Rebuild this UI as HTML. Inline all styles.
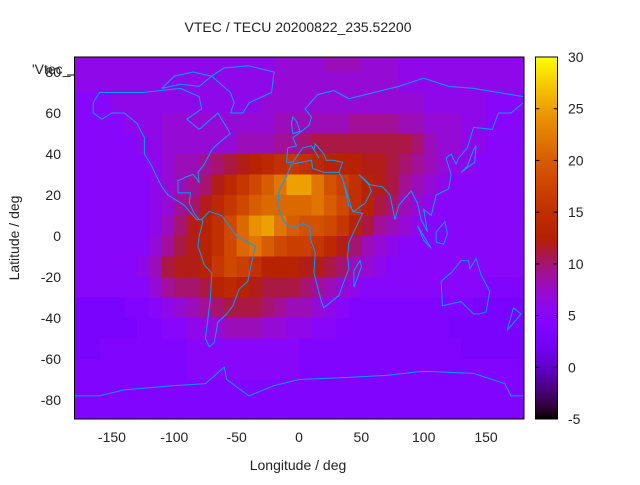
<!DOCTYPE html>
<html><head><meta charset="utf-8"><style>
body{margin:0;background:#fff;}
svg text{font-family:"Liberation Sans",sans-serif;font-size:14px;fill:#222;}
</style></head><body>
<svg id="chart" width="640" height="480" xmlns="http://www.w3.org/2000/svg">
<defs>
<clipPath id="plotclip"><rect x="74.5" y="57" width="449.5" height="362"/></clipPath>
<linearGradient id="cbgrad" x1="0" y1="1" x2="0" y2="0"></linearGradient>
</defs>
<rect width="640" height="480" fill="#fff"/>
<g id="cells" clip-path="url(#plotclip)"></g>
<g id="coast" clip-path="url(#plotclip)"></g>
<rect x="74.5" y="57" width="449.5" height="362" fill="none" stroke="#000" stroke-width="1"/>
<g id="xticks"></g>
<g id="yticks"></g>
<rect x="535.5" y="57" width="22" height="362" fill="url(#cbgrad)" stroke="#000"/>
<g id="cbticks"></g>
<text x="298" y="32" text-anchor="middle">VTEC / TECU 20200822_235.52200</text>
<text x="298" y="470" text-anchor="middle">Longitude / deg</text>
<text x="19" y="238" text-anchor="middle" transform="rotate(-90 19 238)">Latitude / deg</text>
<text x="32" y="74">'Vtec_</text>
<line x1="67" y1="75" x2="74" y2="75" stroke="#000"/>
</svg>
<script>
const lonCenters=[-175,-165,-155,-145,-135,-125,-115,-105,-95,-85,-75,-65,-55,-45,-35,-25,-15,-5,5,15,25,35,45,55,65,75,85,95,105,115,125,135,145,155,165,175];
const latCenters=[85,75,65,55,45,35,25,15,5,-5,-15,-25,-35,-45,-55,-65,-75,-85];
const row85=[6,6,6,6,6,6,6,6,6,6,6,6,6,6,6,6,7,7,7,7,8,8,8,7,7,7,6,6,6,6,6,6,6,6,6,6];
const row75=[6,6,6,6,6,6,6,6,6,6,6,6,6,6,6,6,7,7,7,7,7,7,7,7,7,7,6,6,6,6,6,6,6,6,6,6];
const row65=[5,5,5,6,6,6,6,6,6,6,6,6,6,6,6,7,7,7,7,7,7,7,7,7,7,7,7,7,6,6,6,6,6,5,5,5];
const row55=[5,5,5,5,6,6,6,7,7,7,7,7,7,7,7,7,8,8,8,8,8,8,9,9,9,9,8,8,7,7,7,6,6,5,5,5];
const row45=[5,5,5,5,5,6,6,7,7,7,7,7,7,8,8,8,9,9,10,11,11,11,11,11,11,11,11,10,8,7,7,6,6,5,5,5];
const row35=[5,5,5,5,5,5,6,7,8,8,9,10,11,12,13,14,15,16,15,14,13,13,13,12,12,11,10,9,8,7,6,6,5,5,5,5];
const row25=[5,5,5,5,5,5,6,7,8,9,10,12,14,16,18,20,22,25,25,22,19,17,15,13,12,11,9,8,7,6,5,5,5,5,5,5];
const row15=[5,5,5,5,5,5,6,7,9,10,12,14,16,18,20,21,21,21,21,22,20,18,15,13,11,10,8,7,6,5,5,5,5,5,5,5];
const row5=[5,5,5,5,5,5,6,8,10,12,13,15,18,21,24,25,22,20,19,19,18,16,13,11,9,8,7,6,5,5,5,5,5,5,5,5];
const rowM5=[5,5,5,5,5,5,7,9,11,12,13,15,18,21,22,20,18,17,17,16,14,12,10,8,7,6,5,5,5,5,5,5,5,5,5,5];
const rowM15=[5,5,5,5,5,6,8,11,12,12,13,16,18,17,15,13,13,13,12,12,11,10,8,7,6,5,5,5,5,5,5,5,5,5,5,5];
const rowM25=[5,5,5,5,5,5,7,9,10,10,11,13,14,13,12,11,11,11,10,9,8,7,6,5,5,5,5,5,5,5,5,5,5,4,4,4];
const rowM35=[3,3,3,3,4,4,5,6,7,8,9,10,11,11,11,10,9,8,8,7,6,5,4,4,4,4,4,4,4,4,4,4,3,3,3,3];
const rowM45=[3,3,3,3,3,4,4,5,5,6,6,7,8,8,8,7,7,6,6,5,5,4,4,4,4,4,4,4,4,4,3,3,3,3,3,3];
const rowM55=[3,3,4,4,4,4,4,4,4,5,5,5,5,5,5,5,5,5,4,4,4,4,4,4,4,4,4,4,4,4,4,3,3,3,3,3];
const rowM65=[4,4,4,4,4,4,4,4,4,5,5,5,5,5,5,5,5,5,4,4,4,4,4,4,4,4,4,4,4,4,4,4,4,4,4,4];
const rowM75=[4,4,4,4,4,4,4,4,4,4,4,4,4,4,4,4,4,4,4,4,4,4,4,4,4,4,4,4,4,4,4,4,4,4,4,4];
const rowM85=[4,4,4,4,4,4,4,4,4,4,4,4,4,4,4,4,4,4,4,4,4,4,4,4,4,4,4,4,4,4,4,4,4,4,4,4];
const vtecRows=[row85,row75,row65,row55,row45,row35,row25,row15,row5,rowM5,rowM15,rowM25,rowM35,rowM45,rowM55,rowM65,rowM75,rowM85];
const xTickLabels=[-150,-100,-50,0,50,100,150];
const yTickLabels=[80,60,40,20,0,-20,-40,-60,-80];
const cbTickLabels=[-5,0,5,10,15,20,25,30];
const cbMin=-5, cbMax=30;

const NS="http://www.w3.org/2000/svg";
const xScale=lon=>299+lon*1.247;
const yScale=lat=>236-lat*2.05;
const cbScale=v=>419-(v-cbMin)/(cbMax-cbMin)*362;
function palette(v){
  let t=Math.max(0,Math.min(1,(v-cbMin)/(cbMax-cbMin)));
  const r=Math.sqrt(t), g=t*t*t, b=Math.max(0,Math.sin(2*Math.PI*t));
  return `rgb(${Math.round(r*255)},${Math.round(g*255)},${Math.round(b*255)})`;
}
function mk(tag,attrs,parent){const e=document.createElementNS(NS,tag);for(const k in attrs)e.setAttribute(k,attrs[k]);parent.appendChild(e);return e;}

const cells=document.getElementById('cells');
vtecRows.forEach((row,j)=>{
  const lat=latCenters[j];
  row.forEach((v,i)=>{
    const lon=lonCenters[i];
    const x0=xScale(lon-5), x1=xScale(lon+5), y0=yScale(lat+5), y1=yScale(lat-5);
    const r=mk('rect',{x:x0,y:y0,width:x1-x0+0.6,height:y1-y0+0.6,fill:palette(v)},cells);
    
    
  });
});

const coastlines=[
[[-165,65],[-160,70],[-140,70],[-125,70],[-95,72],[-80,68],[-78,62],[-90,57],[-80,52],[-65,60],[-60,55],[-55,50],[-65,45],[-70,42],[-76,35],[-81,31],[-80,26],[-82,28],[-85,30],[-90,29],[-97,27],[-97,21],[-90,21],[-87,21],[-88,16],[-84,11],[-80,8],[-78,8],[-82,8],[-85,10],[-92,15],[-105,20],[-110,24],[-115,30],[-118,34],[-124,40],[-124,48],[-130,55],[-140,60],[-150,60],[-158,57],[-165,60],[-165,65]],
[[-110,72],[-100,78],[-85,80],[-70,78],[-80,73],[-95,74],[-110,72]],
[[-78,8],[-72,12],[-62,10],[-50,0],[-35,-5],[-38,-13],[-41,-22],[-48,-26],[-53,-34],[-58,-38],[-65,-42],[-68,-52],[-72,-54],[-75,-50],[-73,-40],[-71,-30],[-70,-18],[-76,-14],[-81,-5],[-80,0],[-77,7],[-78,8]],
[[-55,60],[-45,60],[-40,65],[-22,70],[-20,80],[-40,83],[-60,82],[-70,78],[-55,70],[-52,65],[-55,60]],
[[-10,36],[-9,43],[-2,44],[-5,48],[2,51],[8,54],[10,58],[5,62],[15,69],[28,71],[40,67],[60,70],[80,73],[100,77],[120,73],[140,72],[160,70],[180,68]],
[[180,65],[170,60],[160,60],[155,52],[140,53],[135,43],[128,38],[126,35],[122,40],[118,38],[122,30],[120,23],[110,20],[106,10],[100,13],[103,2],[98,8],[95,16],[90,22],[80,15],[77,8],[73,20],[67,24],[57,25],[52,28],[48,30],[56,25],[58,22],[53,16],[44,12],[40,15],[35,28],[32,31],[35,36],[27,37],[22,37],[20,40],[13,45],[12,42],[16,38],[10,44],[3,43],[-5,36],[-10,36]],
[[-6,35],[10,37],[11,33],[20,31],[32,31],[35,28],[43,12],[51,11],[40,-3],[39,-10],[40,-16],[35,-24],[32,-29],[20,-35],[18,-32],[12,-18],[13,-8],[9,-1],[9,4],[4,6],[-8,4],[-13,8],[-17,15],[-16,22],[-10,29],[-6,35]],
[[114,-22],[122,-18],[130,-12],[136,-12],[137,-16],[142,-11],[146,-19],[153,-27],[150,-37],[145,-38],[140,-38],[135,-35],[130,-32],[115,-34],[114,-22]],
[[-180,-78],[-160,-78],[-140,-75],[-100,-73],[-75,-72],[-60,-64],[-58,-70],[-40,-78],[-20,-73],[0,-70],[40,-69],[70,-68],[100,-66],[140,-67],[165,-72],[170,-78],[180,-78]],
[[-5,50],[1,51],[-2,56],[-5,58],[-6,55],[-5,50]],
[[44,-25],[50,-15],[49,-12],[44,-17],[44,-25]],
[[130,31],[141,36],[142,44],[140,42],[135,34],[130,31]],
[[110,2],[117,7],[119,1],[116,-4],[110,-3],[110,2]],
[[95,5],[106,-6],[100,-2],[95,5]],
[[172,-35],[178,-38],[174,-41],[167,-46],[172,-35]]
];
const coast=document.getElementById('coast');
coastlines.forEach(pl=>{
  const p=mk('polyline',{points:pl.map(q=>xScale(q[0]).toFixed(1)+','+yScale(q[1]).toFixed(1)).join(' '),fill:'none',stroke:'#00a0ff','stroke-width':1},coast);
  
  
});

const xt=document.getElementById('xticks');
xTickLabels.forEach(v=>{
  const t=mk('text',{x:xScale(v),y:442,'text-anchor':'middle'},xt);t.textContent=v;
  
  
});
const yt=document.getElementById('yticks');
yTickLabels.forEach(v=>{
  const t=mk('text',{x:61,y:yScale(v)+5,'text-anchor':'end'},yt);t.textContent=v;
  
  
});
const grad=document.getElementById('cbgrad');
for(let k=0;k<=40;k++){
  const v=cbMin+(cbMax-cbMin)*k/40;
  mk('stop',{offset:(k/40),'stop-color':palette(v)},grad);
}
const cbt=document.getElementById('cbticks');
cbTickLabels.forEach(v=>{
  const y=cbScale(v);
  const l1=mk('line',{x1:535.5,x2:539.5,y1:y,y2:y,stroke:'#000'},cbt);
  
  
  const l2=mk('line',{x1:553.5,x2:557.5,y1:y,y2:y,stroke:'#000'},cbt);
  
  
  const t=mk('text',{x:568,y:y+5},cbt);t.textContent=v;
  
  
});
</script>
</body></html>
